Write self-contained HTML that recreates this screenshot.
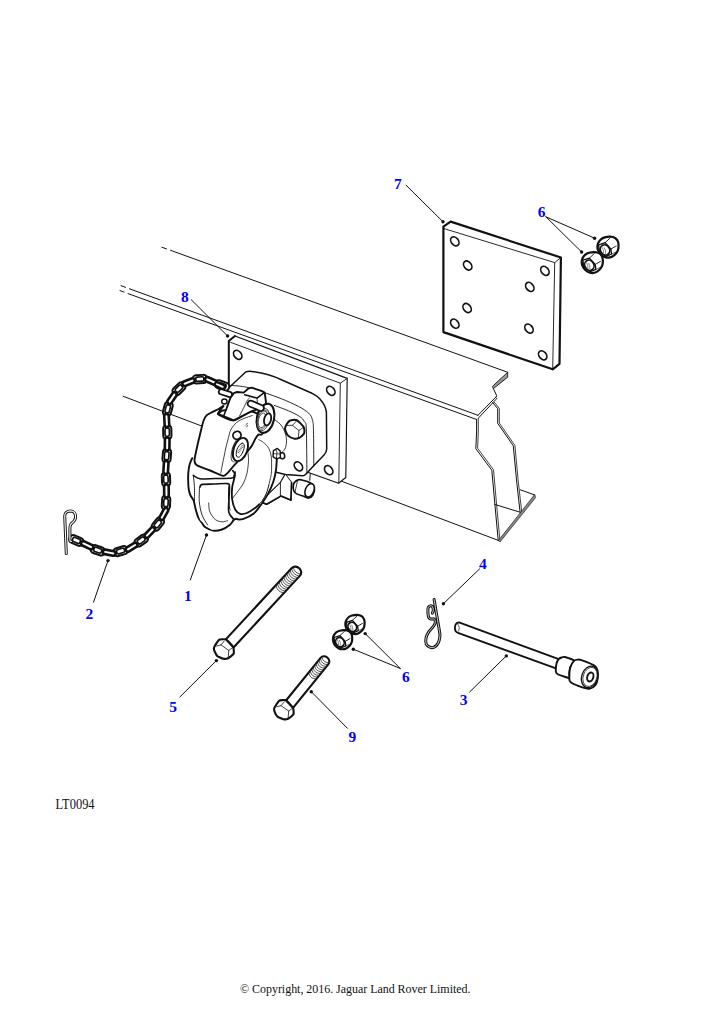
<!DOCTYPE html>
<html><head><meta charset="utf-8"><style>
html,body{margin:0;padding:0;background:#fff;}
svg{display:block;}
.lb{font-family:"Liberation Serif",serif;font-weight:bold;font-size:15.5px;fill:#0000ff;}
.tx{font-family:"Liberation Serif",serif;font-size:12px;fill:#111;}
</style></head><body>
<svg width="724" height="1024" viewBox="0 0 724 1024">
<rect width="724" height="1024" fill="#fff"/>
<path d="M162.00,247.30 L166.50,248.90" fill="none" stroke="#111" stroke-width="1.0" stroke-linejoin="round" stroke-linecap="round"/>
<path d="M170.50,250.30 L507.70,372.30" fill="none" stroke="#111" stroke-width="1.0" stroke-linejoin="round" stroke-linecap="round"/>
<path d="M121.00,285.70 L125.50,287.30" fill="none" stroke="#111" stroke-width="1.0" stroke-linejoin="round" stroke-linecap="round"/>
<path d="M129.50,288.80 L478.00,415.30" fill="none" stroke="#111" stroke-width="1.0" stroke-linejoin="round" stroke-linecap="round"/>
<path d="M120.00,290.60 L124.00,292.10" fill="none" stroke="#111" stroke-width="1.0" stroke-linejoin="round" stroke-linecap="round"/>
<path d="M128.00,293.60 L476.60,419.50" fill="none" stroke="#111" stroke-width="1.0" stroke-linejoin="round" stroke-linecap="round"/>
<path d="M507.7,372.3 L507.7,377.2 L493.4,388.6 L492.3,386.5 Z" fill="#999" stroke="#111" stroke-width="0.9" stroke-linejoin="round"/>
<path d="M493.40,388.60 L496.60,395.50 L496.20,397.00" fill="none" stroke="#111" stroke-width="1.0" stroke-linejoin="round" stroke-linecap="round"/>
<path d="M496.40,396.50 L478.00,415.30" fill="none" stroke="#111" stroke-width="1.0" stroke-linejoin="round" stroke-linecap="round"/>
<path d="M497.00,398.30 L478.30,418.20" fill="none" stroke="#111" stroke-width="1.0" stroke-linejoin="round" stroke-linecap="round"/>
<path d="M476.60,419.50 L476.60,432.00 L475.80,448.70 L491.80,470.20 L494.50,500.00 L498.20,540.50" fill="none" stroke="#111" stroke-width="1.0" stroke-linejoin="round" stroke-linecap="round"/>
<path d="M478.30,418.60 L478.30,432.00 L477.60,448.30 L493.50,469.70 L496.20,500.00 L499.80,539.30" fill="none" stroke="#111" stroke-width="0.8" stroke-linejoin="round" stroke-linecap="round"/>
<path d="M492.80,402.80 L497.70,408.60 L497.70,423.30 L513.30,445.80 L516.50,480.00 L520.10,512.20" fill="none" stroke="#111" stroke-width="1.0" stroke-linejoin="round" stroke-linecap="round"/>
<path d="M494.30,402.30 L499.30,408.30 L499.30,423.00 L514.90,445.40 L518.10,480.00 L521.70,511.60" fill="none" stroke="#111" stroke-width="0.8" stroke-linejoin="round" stroke-linecap="round"/>
<path d="M520.10,489.70 L534.80,495.00" fill="none" stroke="#111" stroke-width="1.0" stroke-linejoin="round" stroke-linecap="round"/>
<path d="M534.6,494.6 L535.6,497.6 L500.0,542.0 L498.4,540.6 Z" fill="#888" stroke="#222" stroke-width="0.7" stroke-linejoin="round"/>
<path d="M494.70,504.40 L520.10,512.20" fill="none" stroke="#111" stroke-width="1.0" stroke-linejoin="round" stroke-linecap="round"/>
<path d="M123.20,396.30 L201.60,426.00" fill="none" stroke="#111" stroke-width="1.0" stroke-linejoin="round" stroke-linecap="round"/>
<path d="M341.00,481.00 L498.60,540.50" fill="none" stroke="#111" stroke-width="1.0" stroke-linejoin="round" stroke-linecap="round"/>
<path d="M443.4,226.6 L450.6,221.6 L560.9,257.5 L559.5,363.8 L552.7,369.3 L443.4,332.1 Z" fill="#fff" stroke="#111" stroke-width="2.2" stroke-linejoin="round" stroke-linecap="round"/>
<path d="M443.40,228.40 L554.70,262.60 L560.90,257.50" fill="none" stroke="#111" stroke-width="0.9" stroke-linejoin="round" stroke-linecap="round"/>
<path d="M554.70,262.60 L552.70,369.30" fill="none" stroke="#111" stroke-width="0.9" stroke-linejoin="round" stroke-linecap="round"/>
<ellipse cx="454.80" cy="241.30" rx="3.60" ry="5.00" transform="rotate(-38 454.80 241.30)" fill="#fff" stroke="#111" stroke-width="1.7"/>
<ellipse cx="467.70" cy="265.50" rx="3.60" ry="5.00" transform="rotate(-38 467.70 265.50)" fill="#fff" stroke="#111" stroke-width="1.7"/>
<ellipse cx="544.90" cy="270.80" rx="3.60" ry="5.00" transform="rotate(-38 544.90 270.80)" fill="#fff" stroke="#111" stroke-width="1.7"/>
<ellipse cx="529.80" cy="286.90" rx="3.60" ry="5.00" transform="rotate(-38 529.80 286.90)" fill="#fff" stroke="#111" stroke-width="1.7"/>
<ellipse cx="467.10" cy="308.00" rx="3.60" ry="5.00" transform="rotate(-38 467.10 308.00)" fill="#fff" stroke="#111" stroke-width="1.7"/>
<ellipse cx="454.80" cy="323.70" rx="3.60" ry="5.00" transform="rotate(-38 454.80 323.70)" fill="#fff" stroke="#111" stroke-width="1.7"/>
<ellipse cx="529.00" cy="328.60" rx="3.60" ry="5.00" transform="rotate(-38 529.00 328.60)" fill="#fff" stroke="#111" stroke-width="1.7"/>
<ellipse cx="542.70" cy="355.30" rx="3.60" ry="5.00" transform="rotate(-38 542.70 355.30)" fill="#fff" stroke="#111" stroke-width="1.7"/>
<path d="M597.51,245.63 C597.62,244.46 597.85,243.56 598.43,242.50 C599.01,241.44 599.95,240.14 601.01,239.28 C602.07,238.42 603.20,237.78 604.78,237.35 C606.36,236.92 608.78,236.60 610.48,236.70 C612.19,236.81 613.83,237.35 614.99,237.99 C616.16,238.64 616.89,239.51 617.48,240.57 C618.06,241.63 618.38,242.85 618.49,244.34 C618.60,245.83 618.50,248.00 618.12,249.49 C617.74,250.98 617.14,252.10 616.19,253.26 C615.24,254.43 613.78,255.75 612.42,256.48 C611.05,257.22 609.49,257.68 608.00,257.68 C606.51,257.68 604.87,257.22 603.49,256.48 C602.11,255.75 600.67,254.43 599.72,253.26 C598.77,252.10 598.16,250.76 597.79,249.49 C597.42,248.22 597.40,246.79 597.51,245.63 Z" fill="#fff" stroke="#111" stroke-width="2.2" stroke-linejoin="round" stroke-linecap="round"/>
<path d="M598.62,244.80 L605.15,242.68 L610.85,249.03 L611.59,254.00 L606.16,256.30 L599.35,250.96 Z" fill="none" stroke="#111" stroke-width="1.3" stroke-linejoin="round" stroke-linecap="round"/>
<path d="M605.15,242.68 L610.12,237.99" fill="none" stroke="#111" stroke-width="0.9" stroke-linejoin="round" stroke-linecap="round"/>
<path d="M610.85,249.03 L616.19,246.00" fill="none" stroke="#111" stroke-width="0.9" stroke-linejoin="round" stroke-linecap="round"/>
<path d="M611.59,254.00 L615.82,252.16" fill="none" stroke="#111" stroke-width="0.6" stroke-linejoin="round" stroke-linecap="round"/>
<ellipse cx="605.06" cy="249.86" rx="4.51" ry="5.24" transform="rotate(-30 605.06 249.86)" fill="#fff" stroke="#111" stroke-width="1.7"/>
<path d="M602.48,247.65 Q604.04,250.23 603.58,253.17" fill="none" stroke="#555" stroke-width="0.7" stroke-linejoin="round" stroke-linecap="round"/>
<path d="M604.50,247.84 Q606.07,250.41 605.61,253.36" fill="none" stroke="#555" stroke-width="0.7" stroke-linejoin="round" stroke-linecap="round"/>
<path d="M581.81,261.03 C581.92,259.86 582.15,258.96 582.73,257.90 C583.31,256.84 584.25,255.54 585.31,254.68 C586.37,253.82 587.50,253.18 589.08,252.75 C590.66,252.32 593.08,252.00 594.78,252.10 C596.49,252.21 598.13,252.75 599.29,253.39 C600.46,254.04 601.19,254.91 601.78,255.97 C602.36,257.03 602.68,258.25 602.79,259.74 C602.90,261.23 602.80,263.40 602.42,264.89 C602.04,266.38 601.44,267.50 600.49,268.66 C599.54,269.83 598.08,271.15 596.72,271.88 C595.35,272.62 593.79,273.08 592.30,273.08 C590.81,273.08 589.17,272.62 587.79,271.88 C586.41,271.15 584.97,269.83 584.02,268.66 C583.07,267.50 582.46,266.16 582.09,264.89 C581.72,263.62 581.70,262.19 581.81,261.03 Z" fill="#fff" stroke="#111" stroke-width="2.2" stroke-linejoin="round" stroke-linecap="round"/>
<path d="M582.92,260.20 L589.45,258.08 L595.15,264.43 L595.89,269.40 L590.46,271.70 L583.65,266.36 Z" fill="none" stroke="#111" stroke-width="1.3" stroke-linejoin="round" stroke-linecap="round"/>
<path d="M589.45,258.08 L594.42,253.39" fill="none" stroke="#111" stroke-width="0.9" stroke-linejoin="round" stroke-linecap="round"/>
<path d="M595.15,264.43 L600.49,261.40" fill="none" stroke="#111" stroke-width="0.9" stroke-linejoin="round" stroke-linecap="round"/>
<path d="M595.89,269.40 L600.12,267.56" fill="none" stroke="#111" stroke-width="0.6" stroke-linejoin="round" stroke-linecap="round"/>
<ellipse cx="589.36" cy="265.26" rx="4.51" ry="5.24" transform="rotate(-30 589.36 265.26)" fill="#fff" stroke="#111" stroke-width="1.7"/>
<path d="M586.78,263.05 Q588.34,265.63 587.88,268.57" fill="none" stroke="#555" stroke-width="0.7" stroke-linejoin="round" stroke-linecap="round"/>
<path d="M588.80,263.24 Q590.37,265.81 589.91,268.76" fill="none" stroke="#555" stroke-width="0.7" stroke-linejoin="round" stroke-linecap="round"/>
<path d="M345.42,623.06 C345.52,621.99 345.73,621.17 346.26,620.20 C346.80,619.23 347.65,618.04 348.62,617.26 C349.58,616.48 350.62,615.89 352.06,615.50 C353.50,615.10 355.71,614.81 357.27,614.91 C358.82,615.01 360.32,615.50 361.38,616.08 C362.45,616.67 363.12,617.47 363.65,618.44 C364.18,619.40 364.48,620.52 364.58,621.88 C364.67,623.24 364.59,625.23 364.24,626.58 C363.89,627.94 363.34,628.96 362.48,630.03 C361.61,631.09 360.28,632.30 359.03,632.97 C357.79,633.64 356.36,634.06 355.00,634.06 C353.64,634.06 352.14,633.64 350.88,632.97 C349.62,632.30 348.31,631.09 347.44,630.03 C346.57,628.96 346.01,627.75 345.68,626.58 C345.34,625.42 345.33,624.12 345.42,623.06 Z" fill="#fff" stroke="#111" stroke-width="2.2" stroke-linejoin="round" stroke-linecap="round"/>
<path d="M346.43,622.30 L352.40,620.37 L357.60,626.16 L358.28,630.70 L353.32,632.80 L347.10,627.93 Z" fill="none" stroke="#111" stroke-width="1.3" stroke-linejoin="round" stroke-linecap="round"/>
<path d="M352.40,620.37 L356.93,616.08" fill="none" stroke="#111" stroke-width="0.9" stroke-linejoin="round" stroke-linecap="round"/>
<path d="M357.60,626.16 L362.48,623.39" fill="none" stroke="#111" stroke-width="0.9" stroke-linejoin="round" stroke-linecap="round"/>
<path d="M358.28,630.70 L362.14,629.02" fill="none" stroke="#111" stroke-width="0.6" stroke-linejoin="round" stroke-linecap="round"/>
<ellipse cx="352.31" cy="626.92" rx="4.12" ry="4.79" transform="rotate(-30 352.31 626.92)" fill="#fff" stroke="#111" stroke-width="1.7"/>
<path d="M349.96,624.90 Q351.39,627.26 350.97,629.94" fill="none" stroke="#555" stroke-width="0.7" stroke-linejoin="round" stroke-linecap="round"/>
<path d="M351.81,625.07 Q353.24,627.42 352.82,630.11" fill="none" stroke="#555" stroke-width="0.7" stroke-linejoin="round" stroke-linecap="round"/>
<path d="M333.02,638.26 C333.12,637.19 333.33,636.37 333.86,635.40 C334.40,634.43 335.25,633.24 336.22,632.46 C337.18,631.68 338.22,631.09 339.66,630.70 C341.10,630.30 343.31,630.01 344.87,630.11 C346.42,630.21 347.92,630.70 348.98,631.28 C350.05,631.87 350.72,632.67 351.25,633.64 C351.78,634.60 352.08,635.72 352.18,637.08 C352.27,638.44 352.19,640.43 351.84,641.78 C351.49,643.14 350.94,644.16 350.08,645.23 C349.21,646.29 347.88,647.50 346.63,648.17 C345.39,648.84 343.96,649.26 342.60,649.26 C341.24,649.26 339.74,648.84 338.48,648.17 C337.22,647.50 335.91,646.29 335.04,645.23 C334.17,644.16 333.61,642.95 333.28,641.78 C332.94,640.62 332.93,639.32 333.02,638.26 Z" fill="#fff" stroke="#111" stroke-width="2.2" stroke-linejoin="round" stroke-linecap="round"/>
<path d="M334.03,637.50 L340.00,635.57 L345.20,641.36 L345.88,645.90 L340.92,648.00 L334.70,643.13 Z" fill="none" stroke="#111" stroke-width="1.3" stroke-linejoin="round" stroke-linecap="round"/>
<path d="M340.00,635.57 L344.53,631.28" fill="none" stroke="#111" stroke-width="0.9" stroke-linejoin="round" stroke-linecap="round"/>
<path d="M345.20,641.36 L350.08,638.59" fill="none" stroke="#111" stroke-width="0.9" stroke-linejoin="round" stroke-linecap="round"/>
<path d="M345.88,645.90 L349.74,644.22" fill="none" stroke="#111" stroke-width="0.6" stroke-linejoin="round" stroke-linecap="round"/>
<ellipse cx="339.91" cy="642.12" rx="4.12" ry="4.79" transform="rotate(-30 339.91 642.12)" fill="#fff" stroke="#111" stroke-width="1.7"/>
<path d="M337.56,640.10 Q338.99,642.46 338.57,645.14" fill="none" stroke="#555" stroke-width="0.7" stroke-linejoin="round" stroke-linecap="round"/>
<path d="M339.41,640.27 Q340.84,642.62 340.42,645.31" fill="none" stroke="#555" stroke-width="0.7" stroke-linejoin="round" stroke-linecap="round"/>
<path d="M228.8,389 L228.8,341 L234.9,336 L347.2,378.4 L345.8,477.5 L338.6,483.2 L300,469.5 Z" fill="#fff" stroke="none"/>
<path d="M228.8,389 L228.8,341 L234.9,336" fill="none" stroke="#111" stroke-width="2.0" stroke-linejoin="round" stroke-linecap="round"/>
<path d="M234.9,336 L347.2,378.4 L345.8,477.5 L338.6,483.2 L300,469.5" fill="none" stroke="#111" stroke-width="1.15" stroke-linejoin="round" stroke-linecap="round"/>
<path d="M230.50,342.30 L340.30,383.20 L347.20,378.40" fill="none" stroke="#111" stroke-width="0.9" stroke-linejoin="round" stroke-linecap="round"/>
<path d="M340.30,383.20 L338.80,483.00" fill="none" stroke="#111" stroke-width="0.9" stroke-linejoin="round" stroke-linecap="round"/>
<ellipse cx="237.70" cy="354.80" rx="3.60" ry="5.00" transform="rotate(-38 237.70 354.80)" fill="#fff" stroke="#111" stroke-width="1.7"/>
<ellipse cx="330.80" cy="390.80" rx="3.60" ry="5.00" transform="rotate(-38 330.80 390.80)" fill="#fff" stroke="#111" stroke-width="1.7"/>
<ellipse cx="328.70" cy="470.20" rx="3.60" ry="5.00" transform="rotate(-38 328.70 470.20)" fill="#fff" stroke="#111" stroke-width="1.7"/>
<path d="M228.6,388 L245.4,372.2 C247,371.4 249,371.2 251.5,371.4 C262,372.3 272,375 282,380 L311.9,393.3 C316,395.3 319,397.5 320.7,399.9 C323.8,403.3 325.8,407.5 326.4,412 L326.7,449 C326.6,451.5 325.5,453.5 324,455 L313,466.5 L306,474 C305,475.2 304,475.8 302.5,475.8 L285.2,474.5 L274.2,471.8 L262,440 L240,420 Z" fill="#fff" stroke="none"/>
<path d="M228.6,388 L245.4,372.2 C247,371.4 249,371.2 251.5,371.4 C262,372.3 272,375 282,380 L311.9,393.3 C316,395.3 319,397.5 320.7,399.9 C323.8,403.3 325.8,407.5 326.4,412 L326.7,449 C326.6,451.5 325.5,453.5 324,455 L313,466.5 L306,474 C305,475.2 304,475.8 302.5,475.8 L285.2,474.5 L274.2,471.8" fill="none" stroke="#111" stroke-width="1.5" stroke-linejoin="round" stroke-linecap="round"/>
<path d="M229.40,385.40 C230.50,385.47 233.80,385.62 236.00,385.80 C238.20,385.98 239.93,386.05 242.60,386.50 C245.27,386.95 248.13,387.40 252.00,388.50 C255.87,389.60 260.92,391.40 265.80,393.10 C270.68,394.80 275.83,396.47 281.30,398.70 C286.77,400.93 294.05,404.10 298.60,406.50 C303.15,408.90 306.30,410.88 308.60,413.10 C310.90,415.32 311.58,416.85 312.40,419.80 C313.22,422.75 313.27,423.10 313.50,430.80 C313.73,438.50 313.75,460.13 313.80,466.00" fill="none" stroke="#111" stroke-width="0.9" stroke-linejoin="round" stroke-linecap="round"/>
<path d="M274.30,405.40 C276.70,406.32 284.47,409.05 288.70,410.90 C292.93,412.75 297.10,414.73 299.70,416.50 C302.30,418.27 303.20,419.42 304.30,421.50 C305.40,423.58 305.87,420.33 306.30,429.00 C306.73,437.67 306.80,466.08 306.90,473.50" fill="none" stroke="#111" stroke-width="0.9" stroke-linejoin="round" stroke-linecap="round"/>
<path d="M310.20,473.40 L309.80,480.30" fill="none" stroke="#111" stroke-width="1.0" stroke-linejoin="round" stroke-linecap="round"/>
<ellipse cx="298.40" cy="466.30" rx="3.60" ry="5.00" transform="rotate(-38 298.40 466.30)" fill="#fff" stroke="#111" stroke-width="1.7"/>
<path d="M285.39,426.90 C285.91,425.74 288.48,421.44 289.81,420.66 C291.14,419.89 295.20,419.53 296.82,420.28 C298.43,421.03 302.78,425.56 303.63,427.10 C304.48,428.63 304.64,432.17 304.11,433.43 C303.59,434.70 300.31,437.34 299.12,437.94 C297.93,438.55 295.22,438.88 293.94,438.62 C292.65,438.35 289.08,436.57 288.08,435.64 C287.08,434.71 285.71,431.67 285.39,430.65 C285.08,429.63 284.88,428.07 285.39,426.90 Z" fill="#fff" stroke="#111" stroke-width="2.0" stroke-linejoin="round" stroke-linecap="round"/>
<path d="M286.93,425.37 L292.50,425.37 L296.82,420.57" fill="none" stroke="#111" stroke-width="0.8" stroke-linejoin="round" stroke-linecap="round"/>
<path d="M292.50,425.37 L298.93,430.55 L303.63,427.10" fill="none" stroke="#111" stroke-width="0.8" stroke-linejoin="round" stroke-linecap="round"/>
<path d="M298.93,430.55 L298.45,437.08" fill="none" stroke="#111" stroke-width="0.8" stroke-linejoin="round" stroke-linecap="round"/>
<path d="M273.20,418.70 C274.50,419.75 278.95,422.45 281.00,425.00 C283.05,427.55 284.58,431.17 285.50,434.00 C286.42,436.83 286.58,439.50 286.50,442.00 C286.42,444.50 285.83,447.17 285.00,449.00 C284.17,450.83 282.08,452.33 281.50,453.00" fill="none" stroke="#111" stroke-width="0.8" stroke-linejoin="round" stroke-linecap="round"/>
<ellipse cx="282.30" cy="455.80" rx="2.40" ry="3.10" transform="rotate(-10 282.30 455.80)" fill="#fff" stroke="#111" stroke-width="1.5"/>
<path d="M273.40,450.60 L277.40,448.40 L280.20,451.00 L280.40,457.40 L276.60,459.20 L273.00,456.60 Z" fill="#fff" stroke="#111" stroke-width="1.4" stroke-linejoin="round" stroke-linecap="round"/>
<path d="M275.60,449.40 L277.00,452.00 L276.40,458.60" fill="none" stroke="#111" stroke-width="0.8" stroke-linejoin="round" stroke-linecap="round"/>
<path d="M273.40,453.60 L280.30,454.00" fill="none" stroke="#111" stroke-width="0.7" stroke-linejoin="round" stroke-linecap="round"/>
<path d="M285.20,474.50 L280.40,482.80 L264.50,498.00 L263.10,502.80 L266.60,504.20 L281.10,495.90 L290.80,500.10 L291.50,482.80 L285.20,474.50" fill="#fff" stroke="#111" stroke-width="1.6" stroke-linejoin="round" stroke-linecap="round"/>
<path d="M285.2,474.5 L280.4,482.8 L264.5,498 L263.1,502.8 L266.6,504.2 L281.1,495.9 L290.8,500.1 L291.5,482.8 Z" fill="#fff" stroke="none"/>
<path d="M285.20,474.50 L280.40,482.80 L264.50,498.00" fill="none" stroke="#111" stroke-width="0.8" stroke-linejoin="round" stroke-linecap="round"/>
<path d="M263.10,502.80 L266.60,504.20 L281.10,495.90 L290.80,500.10 L291.50,482.80" fill="none" stroke="#111" stroke-width="1.6" stroke-linejoin="round" stroke-linecap="round"/>
<path d="M280.40,482.80 L280.40,495.60" fill="none" stroke="#111" stroke-width="0.9" stroke-linejoin="round" stroke-linecap="round"/>
<path d="M293.50,484.20 C293.97,482.12 296.32,480.70 297.70,480.00 C299.08,479.30 299.73,479.53 301.80,480.00 C303.87,480.47 308.02,481.63 310.10,482.80 C312.18,483.97 313.83,484.93 314.30,487.00 C314.77,489.07 313.83,493.37 312.90,495.20 C311.97,497.03 310.08,497.77 308.70,498.00 C307.32,498.23 306.90,497.52 304.60,496.60 C302.30,495.68 296.75,494.57 294.90,492.50 C293.05,490.43 293.03,486.28 293.50,484.20 Z" fill="#fff" stroke="#111" stroke-width="1.7" stroke-linejoin="round" stroke-linecap="round"/>
<ellipse cx="309.60" cy="490.30" rx="4.30" ry="7.00" transform="rotate(22 309.60 490.30)" fill="#fff" stroke="#111" stroke-width="1.6"/>
<path d="M297.70,480.00 L294.90,492.50" fill="none" stroke="#111" stroke-width="0.8" stroke-linejoin="round" stroke-linecap="round"/>
<path d="M227.80,487.30 C227.87,489.42 228.00,496.55 228.20,500.00 C228.40,503.45 228.37,505.42 229.00,508.00 C229.63,510.58 230.68,513.63 232.00,515.50 C233.32,517.37 234.98,518.65 236.90,519.20 C238.82,519.75 240.73,519.70 243.50,518.80 C246.27,517.90 250.58,516.15 253.50,513.80 C256.42,511.45 258.52,508.15 261.00,504.70 C263.48,501.25 266.33,496.97 268.40,493.10 C270.47,489.23 272.15,485.23 273.40,481.50 C274.65,477.77 275.35,474.15 275.90,470.70 C276.45,467.25 276.60,462.83 276.70,460.80 C276.80,458.77 276.53,458.88 276.50,458.50" fill="#fff" stroke="#111" stroke-width="1.9" stroke-linejoin="round" stroke-linecap="round"/>
<path d="M232.80,470.70 C233.17,471.40 235.10,472.13 235.00,474.90 C234.90,477.67 232.67,483.17 232.20,487.30 C231.73,491.43 231.68,495.97 232.20,499.70 C232.72,503.43 233.97,507.35 235.30,509.70 C236.63,512.05 238.27,513.25 240.20,513.80 C242.13,514.35 244.42,513.97 246.90,513.00 C249.38,512.03 253.08,509.42 255.10,508.00 C257.12,506.58 258.35,505.08 259.00,504.50" fill="none" stroke="#111" stroke-width="1.8" stroke-linejoin="round" stroke-linecap="round"/>
<path d="M255.10,508.00 C256.22,506.90 259.90,503.90 261.80,501.40 C263.70,498.90 265.35,495.63 266.50,493.00 C267.65,490.37 268.33,486.83 268.70,485.60" fill="none" stroke="#111" stroke-width="1.0" stroke-linejoin="round" stroke-linecap="round"/>
<path d="M232.80,498.00 C233.75,496.75 236.72,492.98 238.50,490.50 C240.28,488.02 242.12,485.85 243.50,483.10 C244.88,480.35 246.02,477.02 246.80,474.00 C247.58,470.98 247.92,467.62 248.20,465.00 C248.48,462.38 248.58,460.80 248.50,458.30 C248.42,455.80 247.83,451.38 247.70,450.00" fill="none" stroke="#111" stroke-width="0.8" stroke-linejoin="round" stroke-linecap="round"/>
<path d="M192.20,458.20 C191.75,459.33 190.15,462.52 189.50,465.00 C188.85,467.48 188.52,470.27 188.30,473.10 C188.08,475.93 188.12,479.23 188.20,482.00 C188.28,484.77 188.42,487.45 188.80,489.70 C189.18,491.95 189.70,493.70 190.50,495.50 C191.30,497.30 192.77,498.33 193.60,500.50 C194.43,502.67 194.73,505.70 195.50,508.50 C196.27,511.30 197.12,514.88 198.20,517.30 C199.28,519.72 200.80,521.33 202.00,523.00 C203.20,524.67 203.55,526.03 205.40,527.30 C207.25,528.57 210.33,530.23 213.10,530.60 C215.87,530.97 219.23,530.42 222.00,529.50 C224.77,528.58 227.68,526.75 229.70,525.10 C231.72,523.45 232.88,520.58 234.10,519.60 C235.32,518.62 236.52,519.27 237.00,519.20" fill="#fff" stroke="#111" stroke-width="1.9" stroke-linejoin="round" stroke-linecap="round"/>
<path d="M228,478 L228,520 L212,530 L200,520 L196,480 Z" fill="#fff" stroke="#111" stroke-width="0" stroke-linejoin="round" stroke-linecap="round"/>
<path d="M199.90,487.20 C200.27,486.73 199.75,484.93 202.10,484.40 C204.45,483.87 209.77,484.13 214.00,484.00 C218.23,483.87 224.93,483.20 227.50,483.60 C230.07,484.00 229.15,484.00 229.40,486.40 C229.65,488.80 229.13,493.95 229.00,498.00 C228.87,502.05 228.35,507.78 228.60,510.70 C228.85,513.62 229.58,514.02 230.50,515.50 C231.42,516.98 233.50,518.92 234.10,519.60" fill="none" stroke="#111" stroke-width="1.7" stroke-linejoin="round" stroke-linecap="round"/>
<path d="M199.50,488.00 C199.47,490.32 198.87,497.38 199.30,501.90 C199.73,506.42 200.72,511.25 202.10,515.10 C203.48,518.95 206.68,523.35 207.60,525.00" fill="none" stroke="#111" stroke-width="0.9" stroke-linejoin="round" stroke-linecap="round"/>
<path d="M193.30,475.40 C194.40,475.95 196.28,478.17 199.90,478.70 C203.52,479.23 209.67,478.70 215.00,478.60 C220.33,478.50 228.72,478.63 231.90,478.10 C235.08,477.57 233.55,476.42 234.10,475.40 C234.65,474.38 235.02,472.57 235.20,472.00" fill="none" stroke="#111" stroke-width="1.5" stroke-linejoin="round" stroke-linecap="round"/>
<path d="M193.30,475.40 C193.48,477.23 194.22,482.17 194.40,486.40 C194.58,490.63 194.40,498.40 194.40,500.80" fill="none" stroke="#111" stroke-width="0.9" stroke-linejoin="round" stroke-linecap="round"/>
<path d="M208.70,503.00 C208.88,504.47 208.68,509.03 209.80,511.80 C210.92,514.57 213.37,517.93 215.40,519.60 C217.43,521.27 219.98,521.62 222.00,521.80 C224.02,521.98 226.58,520.88 227.50,520.70" fill="none" stroke="#111" stroke-width="0.8" stroke-linejoin="round" stroke-linecap="round"/>
<path d="M223.50,406.00 C223.57,405.50 219.84,408.38 218.70,409.00 C217.56,409.62 213.31,411.56 212.10,412.20 C210.89,412.84 207.45,414.57 206.60,415.40 C205.75,416.23 204.08,419.34 203.60,420.50 C203.12,421.66 202.41,424.55 201.80,427.00 C201.19,429.45 198.22,441.78 197.50,445.00 C196.78,448.22 194.85,457.40 194.60,459.20 C194.35,461.00 194.71,462.36 195.00,463.00 C195.29,463.64 196.00,464.85 197.50,465.60 C199.00,466.35 207.44,469.47 210.00,470.50 C212.56,471.53 221.35,475.64 223.10,475.90 C224.85,476.16 226.40,474.15 227.50,473.10 C228.60,472.05 232.75,466.88 234.10,465.40 C235.45,463.92 239.81,459.54 241.00,458.30 C242.19,457.06 244.90,454.29 246.00,453.00 C247.10,451.71 251.05,446.85 252.00,445.40 C252.95,443.95 254.85,439.58 255.50,438.50 C256.15,437.42 257.83,435.04 258.50,434.60 C259.17,434.16 261.45,435.56 262.20,434.10 C262.95,432.64 267.09,422.26 266.00,420.00 C264.91,417.74 254.52,411.46 251.30,411.50 C248.08,411.54 237.13,420.15 233.80,420.40 C230.47,420.65 219.03,415.44 218.00,414.00 C216.97,412.56 223.43,406.50 223.50,406.00 Z" fill="#fff" stroke="#111" stroke-width="1.9" stroke-linejoin="round" stroke-linecap="round"/>
<path d="M252.30,415.50 C250.92,416.00 246.62,417.33 244.00,418.50 C241.38,419.67 238.80,420.60 236.60,422.50 C234.40,424.40 232.18,427.28 230.80,429.90 C229.42,432.52 229.10,435.35 228.30,438.20 C227.50,441.05 226.70,443.97 226.00,447.00 C225.30,450.03 224.72,453.40 224.10,456.40 C223.48,459.40 222.85,462.23 222.30,465.00 C221.75,467.77 221.05,471.67 220.80,473.00" fill="none" stroke="#111" stroke-width="0.8" stroke-linejoin="round" stroke-linecap="round"/>
<path d="M258.80,439.70 C259.58,440.17 261.85,441.07 263.50,442.50 C265.15,443.93 267.42,446.05 268.70,448.30 C269.98,450.55 270.72,453.05 271.20,456.00 C271.68,458.95 271.60,462.92 271.60,466.00 C271.60,469.08 271.68,471.23 271.20,474.50 C270.72,477.77 269.12,483.75 268.70,485.60" fill="none" stroke="#111" stroke-width="0.8" stroke-linejoin="round" stroke-linecap="round"/>
<ellipse cx="237.00" cy="435.30" rx="4.10" ry="3.90" transform="rotate(-30 237.00 435.30)" fill="#fff" stroke="#111" stroke-width="1.8"/>
<ellipse cx="240.40" cy="449.50" rx="6.90" ry="12.10" transform="rotate(20 240.40 449.50)" fill="#fff" stroke="#111" stroke-width="1.9"/>
<path d="M236.0,440.5 C232.5,446 230.8,452.5 231.2,458.5 C231.6,461 232.8,462 234.2,462" fill="none" stroke="#111" stroke-width="0.8" stroke-linejoin="round" stroke-linecap="round"/>
<path d="M237.6,439.8 C234.5,445 233.0,451.5 233.3,457.5" fill="none" stroke="#111" stroke-width="0.7" stroke-linejoin="round" stroke-linecap="round"/>
<path d="M242.20,443.20 C242.53,443.43 243.90,443.73 244.20,444.60 C244.50,445.47 244.33,446.97 244.00,448.40 C243.67,449.83 242.95,451.80 242.20,453.20 C241.45,454.60 240.32,456.17 239.50,456.80 C238.68,457.43 237.85,457.40 237.30,457.00 C236.75,456.60 236.27,455.62 236.20,454.40 C236.13,453.18 236.40,451.20 236.90,449.70 C237.40,448.20 238.32,446.48 239.20,445.40 C240.08,444.32 241.70,443.57 242.20,443.20" fill="none" stroke="#111" stroke-width="1.0" stroke-linejoin="round" stroke-linecap="round"/>
<path d="M237.60,452.00 l1.5,0.9" fill="none" stroke="#333" stroke-width="0.7" stroke-linejoin="round" stroke-linecap="round"/>
<path d="M238.45,450.65 l1.5,0.9" fill="none" stroke="#333" stroke-width="0.7" stroke-linejoin="round" stroke-linecap="round"/>
<path d="M239.30,449.30 l1.5,0.9" fill="none" stroke="#333" stroke-width="0.7" stroke-linejoin="round" stroke-linecap="round"/>
<path d="M240.15,447.95 l1.5,0.9" fill="none" stroke="#333" stroke-width="0.7" stroke-linejoin="round" stroke-linecap="round"/>
<path d="M241.00,446.60 l1.5,0.9" fill="none" stroke="#333" stroke-width="0.7" stroke-linejoin="round" stroke-linecap="round"/>
<path d="M241.85,445.25 l1.5,0.9" fill="none" stroke="#333" stroke-width="0.7" stroke-linejoin="round" stroke-linecap="round"/>
<path d="M247.6,423.6 q-1.2,-0.6 -1.4,0.6 q0.2,0.9 1.2,1.1 q0.8,0.6 -0.2,1.4 q-0.9,0.3 -1.4,-0.4" fill="none" stroke="#333" stroke-width="0.7" stroke-linejoin="round" stroke-linecap="round"/>
<rect x="69.09" y="536.37" width="14.6" height="8.2" rx="3.8" transform="rotate(23.3 76.39 540.47)" fill="#fff" stroke="#111" stroke-width="2.0"/>
<rect x="72.39" y="538.17" width="8.0" height="4.4" rx="1.6" transform="rotate(23.3 76.39 540.47)" fill="#fff" stroke="#111" stroke-width="1.7"/>
<rect x="90.45" y="546.15" width="14.6" height="8.2" rx="3.8" transform="rotate(18.3 97.75 550.25)" fill="#fff" stroke="#111" stroke-width="2.0"/>
<rect x="93.75" y="547.95" width="8.0" height="4.4" rx="1.6" transform="rotate(18.3 97.75 550.25)" fill="#fff" stroke="#111" stroke-width="1.7"/>
<rect x="113.31" y="547.06" width="14.6" height="8.2" rx="3.8" transform="rotate(-16.0 120.61 551.16)" fill="#fff" stroke="#111" stroke-width="2.0"/>
<rect x="116.61" y="548.86" width="8.0" height="4.4" rx="1.6" transform="rotate(-16.0 120.61 551.16)" fill="#fff" stroke="#111" stroke-width="1.7"/>
<rect x="133.93" y="536.41" width="14.6" height="8.2" rx="3.8" transform="rotate(-35.5 141.23 540.51)" fill="#fff" stroke="#111" stroke-width="2.0"/>
<rect x="137.23" y="538.21" width="8.0" height="4.4" rx="1.6" transform="rotate(-35.5 141.23 540.51)" fill="#fff" stroke="#111" stroke-width="1.7"/>
<rect x="150.56" y="519.89" width="14.6" height="8.2" rx="3.8" transform="rotate(-51.2 157.86 523.99)" fill="#fff" stroke="#111" stroke-width="2.0"/>
<rect x="153.86" y="521.69" width="8.0" height="4.4" rx="1.6" transform="rotate(-51.2 157.86 523.99)" fill="#fff" stroke="#111" stroke-width="1.7"/>
<rect x="158.75" y="498.57" width="14.6" height="8.2" rx="3.8" transform="rotate(-87.5 166.05 502.67)" fill="#fff" stroke="#111" stroke-width="2.0"/>
<rect x="162.05" y="500.37" width="8.0" height="4.4" rx="1.6" transform="rotate(-87.5 166.05 502.67)" fill="#fff" stroke="#111" stroke-width="1.7"/>
<rect x="158.71" y="475.09" width="14.6" height="8.2" rx="3.8" transform="rotate(-92.1 166.01 479.19)" fill="#fff" stroke="#111" stroke-width="2.0"/>
<rect x="162.01" y="476.89" width="8.0" height="4.4" rx="1.6" transform="rotate(-92.1 166.01 479.19)" fill="#fff" stroke="#111" stroke-width="1.7"/>
<rect x="159.47" y="451.63" width="14.6" height="8.2" rx="3.8" transform="rotate(-85.9 166.77 455.73)" fill="#fff" stroke="#111" stroke-width="2.0"/>
<rect x="162.77" y="453.43" width="8.0" height="4.4" rx="1.6" transform="rotate(-85.9 166.77 455.73)" fill="#fff" stroke="#111" stroke-width="1.7"/>
<rect x="160.00" y="428.14" width="14.6" height="8.2" rx="3.8" transform="rotate(-91.0 167.30 432.24)" fill="#fff" stroke="#111" stroke-width="2.0"/>
<rect x="163.30" y="429.94" width="8.0" height="4.4" rx="1.6" transform="rotate(-91.0 167.30 432.24)" fill="#fff" stroke="#111" stroke-width="1.7"/>
<rect x="160.54" y="404.85" width="14.6" height="8.2" rx="3.8" transform="rotate(-75.5 167.84 408.95)" fill="#fff" stroke="#111" stroke-width="2.0"/>
<rect x="163.84" y="406.65" width="8.0" height="4.4" rx="1.6" transform="rotate(-75.5 167.84 408.95)" fill="#fff" stroke="#111" stroke-width="1.7"/>
<rect x="171.70" y="384.67" width="14.6" height="8.2" rx="3.8" transform="rotate(-43.7 179.00 388.77)" fill="#fff" stroke="#111" stroke-width="2.0"/>
<rect x="175.00" y="386.47" width="8.0" height="4.4" rx="1.6" transform="rotate(-43.7 179.00 388.77)" fill="#fff" stroke="#111" stroke-width="1.7"/>
<rect x="192.52" y="375.10" width="14.6" height="8.2" rx="3.8" transform="rotate(-3.8 199.82 379.20)" fill="#fff" stroke="#111" stroke-width="2.0"/>
<rect x="195.82" y="376.90" width="8.0" height="4.4" rx="1.6" transform="rotate(-3.8 199.82 379.20)" fill="#fff" stroke="#111" stroke-width="1.7"/>
<rect x="214.75" y="381.39" width="14.6" height="8.2" rx="3.8" transform="rotate(20.7 222.05 385.49)" fill="#fff" stroke="#111" stroke-width="2.0"/>
<rect x="218.05" y="383.19" width="8.0" height="4.4" rx="1.6" transform="rotate(20.7 222.05 385.49)" fill="#fff" stroke="#111" stroke-width="1.7"/>
<rect x="80.64" y="542.92" width="13.0" height="4.6" rx="2.3" transform="rotate(25.3 87.14 545.22)" fill="#fff" stroke="#111" stroke-width="2.6"/>
<rect x="102.75" y="550.36" width="13.0" height="4.6" rx="2.3" transform="rotate(10.6 109.25 552.66)" fill="#fff" stroke="#111" stroke-width="2.6"/>
<rect x="125.06" y="544.88" width="13.0" height="4.6" rx="2.3" transform="rotate(-31.1 131.56 547.18)" fill="#fff" stroke="#111" stroke-width="2.6"/>
<rect x="143.27" y="530.22" width="13.0" height="4.6" rx="2.3" transform="rotate(-46.5 149.77 532.52)" fill="#fff" stroke="#111" stroke-width="2.6"/>
<rect x="157.35" y="511.63" width="13.0" height="4.6" rx="2.3" transform="rotate(-61.5 163.85 513.93)" fill="#fff" stroke="#111" stroke-width="2.6"/>
<rect x="159.94" y="488.63" width="13.0" height="4.6" rx="2.3" transform="rotate(-90.7 166.44 490.93)" fill="#fff" stroke="#111" stroke-width="2.6"/>
<rect x="159.42" y="465.15" width="13.0" height="4.6" rx="2.3" transform="rotate(-86.6 165.92 467.45)" fill="#fff" stroke="#111" stroke-width="2.6"/>
<rect x="160.67" y="441.69" width="13.0" height="4.6" rx="2.3" transform="rotate(-89.4 167.17 443.99)" fill="#fff" stroke="#111" stroke-width="2.6"/>
<rect x="160.21" y="418.21" width="13.0" height="4.6" rx="2.3" transform="rotate(-93.0 166.71 420.51)" fill="#fff" stroke="#111" stroke-width="2.6"/>
<rect x="165.51" y="395.83" width="13.0" height="4.6" rx="2.3" transform="rotate(-56.1 172.01 398.13)" fill="#fff" stroke="#111" stroke-width="2.6"/>
<rect x="182.05" y="379.86" width="13.0" height="4.6" rx="2.3" transform="rotate(-21.7 188.55 382.16)" fill="#fff" stroke="#111" stroke-width="2.6"/>
<rect x="204.68" y="378.76" width="13.0" height="4.6" rx="2.3" transform="rotate(24.0 211.18 381.06)" fill="#fff" stroke="#111" stroke-width="2.6"/>
<path d="M66.3,553.6 L64.7,516 C64.7,513.3 67,511 70.4,510.9 C73.5,510.9 75.6,513.3 75.6,516.8 C75.6,519.5 73.5,522 71.5,523.5 C70.3,524.5 69.9,525.8 69.9,527.5 L69.9,540.2 C69.9,541 70.5,541.5 71.5,541.5" fill="none" stroke="#111" stroke-width="3.0" stroke-linejoin="round" stroke-linecap="round"/>
<path d="M66.3,553.6 L64.7,516 C64.7,513.3 67,511 70.4,510.9 C73.5,510.9 75.6,513.3 75.6,516.8 C75.6,519.5 73.5,522 71.5,523.5 C70.3,524.5 69.9,525.8 69.9,527.5 L69.9,540.2 C69.9,541 70.5,541.5 71.5,541.5" fill="none" stroke="#fff" stroke-width="1.1" stroke-linejoin="round" stroke-linecap="round"/>
<rect x="214.60" y="383.60" width="10.4" height="4.0" rx="2.0" transform="rotate(24 219.8 385.6)" fill="#fff" stroke="#111" stroke-width="2.2"/>
<path d="M218.00,414.00 L221.50,410.80 L226.00,410.00 L230.50,397.60 L233.80,393.10 L237.10,392.00 L243.70,392.60 L248.10,388.70 L251.50,387.60 L261.40,390.90 L264.70,392.60 L265.80,400.90 L266.20,406.00 L251.30,411.40 L233.80,420.40 Z" fill="#fff" stroke="#111" stroke-width="1.9" stroke-linejoin="round" stroke-linecap="round"/>
<path d="M226.00,410.00 L223.40,416.80" fill="none" stroke="#111" stroke-width="1.6" stroke-linejoin="round" stroke-linecap="round"/>
<path d="M244.80,394.80 L257.00,398.10 L263.60,393.10" fill="none" stroke="#111" stroke-width="1.6" stroke-linejoin="round" stroke-linecap="round"/>
<path d="M257.00,398.10 L257.40,402.50" fill="none" stroke="#111" stroke-width="0.8" stroke-linejoin="round" stroke-linecap="round"/>
<path d="M239.60,415.90 L247.70,399.70 L249.50,398.00" fill="none" stroke="#111" stroke-width="0.8" stroke-linejoin="round" stroke-linecap="round"/>
<ellipse cx="224.40" cy="401.50" rx="2.70" ry="2.50" transform="rotate(0 224.40 401.50)" fill="#fff" stroke="#111" stroke-width="1.4"/>
<rect x="218.6" y="390.5" width="13.6" height="5.2" rx="2.6" transform="rotate(18 225.4 393.1)" fill="#fff" stroke="#111" stroke-width="1.7"/>
<ellipse cx="265.50" cy="418.30" rx="8.60" ry="14.80" transform="rotate(12 265.50 418.30)" fill="#fff" stroke="#111" stroke-width="2.1"/>
<ellipse cx="263.20" cy="419.60" rx="6.00" ry="11.40" transform="rotate(12 263.20 419.60)" fill="#fff" stroke="#111" stroke-width="0.7"/>
<ellipse cx="262.60" cy="420.00" rx="4.80" ry="9.40" transform="rotate(12 262.60 420.00)" fill="#fff" stroke="#111" stroke-width="0.7"/>
<ellipse cx="262.20" cy="420.40" rx="3.80" ry="7.40" transform="rotate(12 262.20 420.40)" fill="#fff" stroke="#111" stroke-width="0.7"/>
<ellipse cx="267.60" cy="419.40" rx="3.40" ry="6.10" transform="rotate(14 267.60 419.40)" fill="#fff" stroke="#111" stroke-width="1.8"/>
<path d="M262.5,410.5 l1.8,-1.2" fill="none" stroke="#444" stroke-width="0.6" stroke-linejoin="round" stroke-linecap="round"/>
<path d="M263.4,410.9 l1.8,-1.2" fill="none" stroke="#444" stroke-width="0.6" stroke-linejoin="round" stroke-linecap="round"/>
<path d="M264.3,411.3 l1.8,-1.2" fill="none" stroke="#444" stroke-width="0.6" stroke-linejoin="round" stroke-linecap="round"/>
<path d="M265.2,411.7 l1.8,-1.2" fill="none" stroke="#444" stroke-width="0.6" stroke-linejoin="round" stroke-linecap="round"/>
<path d="M266.1,412.1 l1.8,-1.2" fill="none" stroke="#444" stroke-width="0.6" stroke-linejoin="round" stroke-linecap="round"/>
<rect x="247.3" y="402.8" width="17" height="6.0" rx="3.0" transform="rotate(23 255.8 405.8)" fill="#fff" stroke="#111" stroke-width="1.7"/>
<path d="M406.10,185.20 L443.00,221.80" fill="none" stroke="#111" stroke-width="1.0" stroke-linejoin="round" stroke-linecap="round"/>
<circle cx="443.00" cy="221.80" r="1.7" fill="#111"/>
<path d="M545.90,216.80 L594.60,238.20" fill="none" stroke="#111" stroke-width="1.0" stroke-linejoin="round" stroke-linecap="round"/>
<circle cx="594.60" cy="238.20" r="1.7" fill="#111"/>
<path d="M545.90,216.80 L581.60,252.00" fill="none" stroke="#111" stroke-width="1.0" stroke-linejoin="round" stroke-linecap="round"/>
<circle cx="581.60" cy="252.00" r="1.7" fill="#111"/>
<path d="M191.30,299.80 L227.60,336.00" fill="none" stroke="#111" stroke-width="1.0" stroke-linejoin="round" stroke-linecap="round"/>
<circle cx="227.60" cy="336.00" r="1.7" fill="#111"/>
<path d="M190.30,580.00 L206.50,535.00" fill="none" stroke="#111" stroke-width="1.0" stroke-linejoin="round" stroke-linecap="round"/>
<circle cx="206.50" cy="535.00" r="1.7" fill="#111"/>
<path d="M93.50,602.20 L108.00,560.60" fill="none" stroke="#111" stroke-width="1.0" stroke-linejoin="round" stroke-linecap="round"/>
<circle cx="108.00" cy="560.60" r="1.7" fill="#111"/>
<path d="M179.90,697.00 L216.40,660.60" fill="none" stroke="#111" stroke-width="1.0" stroke-linejoin="round" stroke-linecap="round"/>
<circle cx="216.40" cy="660.60" r="1.7" fill="#111"/>
<path d="M347.30,728.20 L311.30,691.70" fill="none" stroke="#111" stroke-width="1.0" stroke-linejoin="round" stroke-linecap="round"/>
<circle cx="311.30" cy="691.70" r="1.7" fill="#111"/>
<path d="M400.30,668.50 L365.20,633.60" fill="none" stroke="#111" stroke-width="1.0" stroke-linejoin="round" stroke-linecap="round"/>
<circle cx="365.20" cy="633.60" r="1.7" fill="#111"/>
<path d="M400.30,668.50 L353.30,649.20" fill="none" stroke="#111" stroke-width="1.0" stroke-linejoin="round" stroke-linecap="round"/>
<circle cx="353.30" cy="649.20" r="1.7" fill="#111"/>
<path d="M469.50,692.10 L506.30,655.90" fill="none" stroke="#111" stroke-width="1.0" stroke-linejoin="round" stroke-linecap="round"/>
<circle cx="506.30" cy="655.90" r="1.7" fill="#111"/>
<path d="M479.60,568.90 L443.40,603.70" fill="none" stroke="#111" stroke-width="1.0" stroke-linejoin="round" stroke-linecap="round"/>
<circle cx="443.40" cy="603.70" r="1.7" fill="#111"/>
<path d="M224.38,640.91 L291.59,568.31 C296.34,563.17 304.56,570.78 299.81,575.91 L232.60,648.52" fill="#fff" stroke="#111" stroke-width="2.1" stroke-linejoin="round" stroke-linecap="round"/>
<path d="M293.43,567.94 Q294.69,573.20 300.03,574.05" fill="none" stroke="#333" stroke-width="0.85" stroke-linejoin="round" stroke-linecap="round"/>
<path d="M291.86,569.63 Q293.13,574.88 298.47,575.74" fill="none" stroke="#333" stroke-width="0.85" stroke-linejoin="round" stroke-linecap="round"/>
<path d="M290.30,571.31 Q291.57,576.57 296.91,577.43" fill="none" stroke="#333" stroke-width="0.85" stroke-linejoin="round" stroke-linecap="round"/>
<path d="M288.74,573.00 Q290.00,578.26 295.34,579.11" fill="none" stroke="#333" stroke-width="0.85" stroke-linejoin="round" stroke-linecap="round"/>
<path d="M287.18,574.69 Q288.44,579.95 293.78,580.80" fill="none" stroke="#333" stroke-width="0.85" stroke-linejoin="round" stroke-linecap="round"/>
<path d="M285.61,576.38 Q286.88,581.64 292.22,582.49" fill="none" stroke="#333" stroke-width="0.85" stroke-linejoin="round" stroke-linecap="round"/>
<path d="M284.05,578.07 Q285.32,583.32 290.66,584.18" fill="none" stroke="#333" stroke-width="0.85" stroke-linejoin="round" stroke-linecap="round"/>
<path d="M282.49,579.75 Q283.75,585.01 289.09,585.87" fill="none" stroke="#333" stroke-width="0.85" stroke-linejoin="round" stroke-linecap="round"/>
<path d="M280.93,581.44 Q282.19,586.70 287.53,587.55" fill="none" stroke="#333" stroke-width="0.85" stroke-linejoin="round" stroke-linecap="round"/>
<path d="M279.37,583.13 Q280.63,588.39 285.97,589.24" fill="none" stroke="#333" stroke-width="0.85" stroke-linejoin="round" stroke-linecap="round"/>
<path d="M277.80,584.82 Q279.07,590.08 284.41,590.93" fill="none" stroke="#333" stroke-width="0.85" stroke-linejoin="round" stroke-linecap="round"/>
<path d="M276.24,586.50 Q277.51,591.76 282.85,592.62" fill="none" stroke="#333" stroke-width="0.85" stroke-linejoin="round" stroke-linecap="round"/>
<path d="M214.20,647.10 C214.51,646.40 218.11,640.41 218.90,639.90 C219.69,639.39 225.05,638.92 226.00,639.40 C226.95,639.88 232.69,646.14 233.20,647.10 C233.71,648.06 234.03,653.06 233.70,653.80 C233.37,654.54 228.90,657.87 228.20,658.20 C227.50,658.53 223.93,658.85 223.20,658.70 C222.47,658.55 217.80,656.55 217.20,656.00 C216.60,655.45 214.40,650.99 214.20,650.40 C214.00,649.81 213.89,647.80 214.20,647.10 Z" fill="#fff" stroke="#111" stroke-width="2.1" stroke-linejoin="round" stroke-linecap="round"/>
<path d="M216.60,646.00 L221.00,644.90 L224.30,641.00" fill="none" stroke="#111" stroke-width="0.8" stroke-linejoin="round" stroke-linecap="round"/>
<path d="M221.00,644.90 L228.80,650.40 L233.20,647.10" fill="none" stroke="#111" stroke-width="0.8" stroke-linejoin="round" stroke-linecap="round"/>
<path d="M228.80,650.40 L228.20,657.60" fill="none" stroke="#111" stroke-width="0.8" stroke-linejoin="round" stroke-linecap="round"/>
<path d="M226.00,639.40 L233.20,647.10" fill="none" stroke="#111" stroke-width="1.9" stroke-linejoin="round" stroke-linecap="round"/>
<path d="M284.57,702.28 L320.40,658.05 C324.37,653.14 332.22,659.50 328.25,664.40 L292.42,708.63" fill="#fff" stroke="#111" stroke-width="2.1" stroke-linejoin="round" stroke-linecap="round"/>
<path d="M322.05,657.75 Q323.23,662.57 328.19,662.72" fill="none" stroke="#333" stroke-width="0.85" stroke-linejoin="round" stroke-linecap="round"/>
<path d="M320.61,659.54 Q321.79,664.35 326.74,664.51" fill="none" stroke="#333" stroke-width="0.85" stroke-linejoin="round" stroke-linecap="round"/>
<path d="M319.16,661.32 Q320.34,666.14 325.30,666.30" fill="none" stroke="#333" stroke-width="0.85" stroke-linejoin="round" stroke-linecap="round"/>
<path d="M317.71,663.11 Q318.89,667.93 323.85,668.08" fill="none" stroke="#333" stroke-width="0.85" stroke-linejoin="round" stroke-linecap="round"/>
<path d="M316.26,664.90 Q317.44,669.72 322.40,669.87" fill="none" stroke="#333" stroke-width="0.85" stroke-linejoin="round" stroke-linecap="round"/>
<path d="M314.81,666.68 Q316.00,671.50 320.95,671.66" fill="none" stroke="#333" stroke-width="0.85" stroke-linejoin="round" stroke-linecap="round"/>
<path d="M313.37,668.47 Q314.55,673.29 319.50,673.44" fill="none" stroke="#333" stroke-width="0.85" stroke-linejoin="round" stroke-linecap="round"/>
<path d="M311.92,670.26 Q313.10,675.08 318.06,675.23" fill="none" stroke="#333" stroke-width="0.85" stroke-linejoin="round" stroke-linecap="round"/>
<path d="M310.47,672.05 Q311.65,676.86 316.61,677.02" fill="none" stroke="#333" stroke-width="0.85" stroke-linejoin="round" stroke-linecap="round"/>
<path d="M309.02,673.83 Q310.20,678.65 315.16,678.81" fill="none" stroke="#333" stroke-width="0.85" stroke-linejoin="round" stroke-linecap="round"/>
<path d="M274.39,707.84 C274.70,707.15 278.23,701.29 279.00,700.78 C279.77,700.28 285.02,699.82 285.96,700.29 C286.89,700.76 292.51,706.90 293.01,707.84 C293.52,708.78 293.83,713.68 293.50,714.40 C293.18,715.13 288.80,718.40 288.11,718.72 C287.43,719.04 283.93,719.35 283.21,719.21 C282.50,719.06 277.92,717.10 277.33,716.56 C276.75,716.02 274.59,711.65 274.39,711.07 C274.20,710.49 274.09,708.52 274.39,707.84 Z" fill="#fff" stroke="#111" stroke-width="2.1" stroke-linejoin="round" stroke-linecap="round"/>
<path d="M276.75,706.76 L281.06,705.68 L284.29,701.86" fill="none" stroke="#111" stroke-width="0.8" stroke-linejoin="round" stroke-linecap="round"/>
<path d="M281.06,705.68 L288.70,711.07 L293.01,707.84" fill="none" stroke="#111" stroke-width="0.8" stroke-linejoin="round" stroke-linecap="round"/>
<path d="M288.70,711.07 L288.11,718.13" fill="none" stroke="#111" stroke-width="0.8" stroke-linejoin="round" stroke-linecap="round"/>
<path d="M285.96,700.29 L293.01,707.84" fill="none" stroke="#111" stroke-width="1.9" stroke-linejoin="round" stroke-linecap="round"/>
<path d="M459.0,622.4 L558.7,659.1 L556.6,668.6 L458.0,632.8 C453.6,631.3 453.8,623.0 459.0,622.4 Z" fill="#fff" stroke="#111" stroke-width="1.8" stroke-linejoin="round" stroke-linecap="round"/>
<path d="M457.80,624.20 C458.05,624.75 459.17,626.37 459.30,627.50 C459.43,628.63 458.72,630.42 458.60,631.00" fill="none" stroke="#111" stroke-width="0.7" stroke-linejoin="round" stroke-linecap="round"/>
<path d="M558.70,659.10 C559.37,658.33 560.77,657.78 561.60,657.50 C562.43,657.22 563.25,656.56 564.90,657.00 C566.55,657.44 573.28,659.41 574.00,660.80 C574.72,662.19 570.93,665.64 570.30,667.40 C569.67,669.16 569.31,672.48 569.30,674.00 C569.29,675.52 570.24,678.24 570.20,678.80 C570.16,679.36 570.71,678.84 569.00,678.20 C567.29,677.56 559.16,675.00 557.40,674.00 C555.64,673.00 555.91,672.13 555.80,670.70 C555.69,669.27 556.21,664.85 556.60,663.30 C556.99,661.75 558.03,659.87 558.70,659.10 Z" fill="#fff" stroke="#111" stroke-width="1.9" stroke-linejoin="round" stroke-linecap="round"/>
<path d="M574.00,660.80 C575.04,659.76 577.10,659.68 578.10,659.60 C579.10,659.52 579.29,659.39 581.50,660.20 C583.71,661.01 592.57,664.33 594.70,665.70 C596.83,667.07 597.09,668.86 597.50,670.50 C597.91,672.14 598.07,676.07 597.80,678.00 C597.53,679.93 596.54,683.59 595.50,685.00 C594.46,686.41 591.65,688.24 590.00,688.60 C588.35,688.96 585.67,688.54 583.10,687.70 C580.53,686.86 572.54,683.69 570.70,682.30 C568.86,680.91 569.35,679.29 569.30,677.30 C569.25,675.31 569.67,669.60 570.30,667.40 C570.93,665.20 572.96,661.84 574.00,660.80 Z" fill="#fff" stroke="#111" stroke-width="1.9" stroke-linejoin="round" stroke-linecap="round"/>
<ellipse cx="589.60" cy="676.90" rx="7.90" ry="11.00" transform="rotate(18 589.60 676.90)" fill="#fff" stroke="#111" stroke-width="1.3"/>
<ellipse cx="590.00" cy="676.90" rx="6.80" ry="9.80" transform="rotate(18 590.00 676.90)" fill="#fff" stroke="#111" stroke-width="0.7"/>
<ellipse cx="590.30" cy="677.00" rx="3.00" ry="4.60" transform="rotate(18 590.30 677.00)" fill="#fff" stroke="#111" stroke-width="1.9"/>
<path d="M434.10,599.50 C434.50,601.92 435.60,608.68 436.50,614.00 C437.40,619.32 438.93,627.67 439.50,631.40 C440.07,635.13 440.12,634.47 439.90,636.40 C439.68,638.33 439.17,641.20 438.20,643.00 C437.23,644.80 435.48,646.50 434.10,647.20 C432.72,647.90 431.22,647.75 429.90,647.20 C428.58,646.65 426.82,645.57 426.20,643.90 C425.58,642.23 425.72,639.28 426.20,637.20 C426.68,635.12 427.92,633.18 429.10,631.40 C430.28,629.62 432.27,628.02 433.30,626.50 C434.33,624.98 435.17,623.55 435.30,622.30 C435.43,621.05 434.85,619.55 434.10,619.00 C433.35,618.45 431.70,619.28 430.80,619.00 C429.90,618.72 429.18,618.40 428.70,617.30 C428.22,616.20 427.97,614.05 427.90,612.40 C427.83,610.75 427.82,608.52 428.30,607.40 C428.78,606.28 430.12,605.83 430.80,605.70 C431.48,605.57 431.98,605.90 432.40,606.60 C432.82,607.30 433.30,608.80 433.30,609.90 C433.30,611.00 432.55,612.65 432.40,613.20" fill="none" stroke="#111" stroke-width="3.0" stroke-linejoin="round" stroke-linecap="round"/>
<path d="M434.10,599.50 C434.50,601.92 435.60,608.68 436.50,614.00 C437.40,619.32 438.93,627.67 439.50,631.40 C440.07,635.13 440.12,634.47 439.90,636.40 C439.68,638.33 439.17,641.20 438.20,643.00 C437.23,644.80 435.48,646.50 434.10,647.20 C432.72,647.90 431.22,647.75 429.90,647.20 C428.58,646.65 426.82,645.57 426.20,643.90 C425.58,642.23 425.72,639.28 426.20,637.20 C426.68,635.12 427.92,633.18 429.10,631.40 C430.28,629.62 432.27,628.02 433.30,626.50 C434.33,624.98 435.17,623.55 435.30,622.30 C435.43,621.05 434.85,619.55 434.10,619.00 C433.35,618.45 431.70,619.28 430.80,619.00 C429.90,618.72 429.18,618.40 428.70,617.30 C428.22,616.20 427.97,614.05 427.90,612.40 C427.83,610.75 427.82,608.52 428.30,607.40 C428.78,606.28 430.12,605.83 430.80,605.70 C431.48,605.57 431.98,605.90 432.40,606.60 C432.82,607.30 433.30,608.80 433.30,609.90 C433.30,611.00 432.55,612.65 432.40,613.20" fill="none" stroke="#fff" stroke-width="0.8" stroke-linejoin="round" stroke-linecap="round"/>
<text x="394" y="189.3" class="lb">7</text>
<text x="537.8" y="217.2" class="lb">6</text>
<text x="181.0" y="302.0" class="lb">8</text>
<text x="479.1" y="568.8" class="lb">4</text>
<text x="402.0" y="682.3" class="lb">6</text>
<text x="184.1" y="600.6" class="lb">1</text>
<text x="85.4" y="618.6" class="lb">2</text>
<text x="169.3" y="711.7" class="lb">5</text>
<text x="459.7" y="704.8" class="lb">3</text>
<text x="348.6" y="741.6" class="lb">9</text>
<text x="55.6" y="809.2" class="tx" style="font-size:13.9px" textLength="39.0" lengthAdjust="spacingAndGlyphs">LT0094</text>
<text x="240" y="993" class="tx" textLength="230.5" lengthAdjust="spacing">© Copyright, 2016. Jaguar Land Rover Limited.</text>
</svg>
</body></html>
